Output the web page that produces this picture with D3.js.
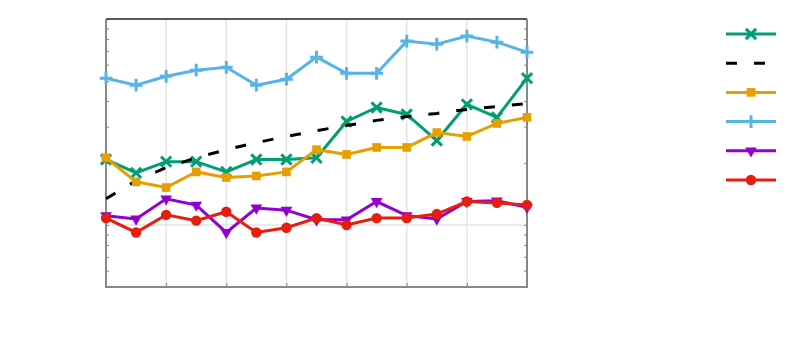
<html>
    <head>
        <title>Line chart</title>
        <script type="text/javascript" src="https://cdn.jsdelivr.net/npm/d3@7"></script>
        <style type="text/css">
            body { margin: 0; background: #fff; }
        </style>
    </head>
    <body>
        <script type="text/javascript">

            var xValues = [0, 1, 2, 3, 4, 5, 6, 7, 8, 9, 10, 11, 12, 13, 14];
            var xTicks = [0, 2, 4, 6, 8, 10, 12, 14];
            var yTicks = [0.5, 0.6, 0.7, 0.8, 0.9, 1, 2, 3, 4, 5, 6, 7, 8, 9, 10];
            var yMajor = [1, 10];

            var greenValues  = [2.08, 1.79, 2.03, 2.03, 1.81, 2.08, 2.08, 2.12, 3.18, 3.72, 3.44, 2.57, 3.85, 3.33, 5.16];
            var trendValues  = [1.34, 1.64, 1.90, 2.12, 2.32, 2.51, 2.69, 2.87, 3.04, 3.22, 3.36, 3.48, 3.64, 3.76, 3.89];
            var orangeValues = [2.12, 1.62, 1.52, 1.81, 1.70, 1.73, 1.81, 2.32, 2.20, 2.38, 2.38, 2.81, 2.69, 3.11, 3.33];
            var blueValues   = [5.16, 4.77, 5.27, 5.64, 5.83, 4.77, 5.10, 6.53, 5.45, 5.45, 7.81, 7.55, 8.26, 7.72, 6.90];
            var purpleValues = [1.11, 1.07, 1.34, 1.25, 0.92, 1.21, 1.18, 1.06, 1.06, 1.30, 1.11, 1.07, 1.30, 1.31, 1.22];
            var redValues    = [1.08, 0.92, 1.12, 1.05, 1.16, 0.92, 0.97, 1.08, 1.00, 1.08, 1.08, 1.13, 1.30, 1.28, 1.25];

            var series = [
                {name: 'green',  values: greenValues,  color: '#009e73', symbol: d3.symbolTimes,    size: 70, stroke: true},
                {name: 'trend',  values: trendValues,  color: '#000000', symbol: null, dash: '11,17'},
                {name: 'orange', values: orangeValues, color: '#e69f00', symbol: d3.symbolSquare,   size: 75},
                {name: 'blue',   values: blueValues,   color: '#56b4e9', symbol: d3.symbolPlus,     size: 55, stroke: true},
                {name: 'purple', values: purpleValues, color: '#9400d3', symbol: d3.symbolTriangle, size: 60, rotate: 180},
                {name: 'red',    values: redValues,    color: '#e51e10', symbol: d3.symbolCircle,   size: 85}
            ];

            var width = 800;
            var height = 350;
            var plot = {left: 106, right: 527, top: 19, bottom: 287};

            var svg = d3.select('body')
                .append('svg')
                    .attr('width', width)
                    .attr('height', height);

            var xScale = d3.scaleLinear()
                .domain([0, 14])
                .range([plot.left, plot.right]);

            var yScale = d3.scaleLog()
                .domain([0.5, 10])
                .range([plot.bottom, plot.top]);

            // grid
            var grid = svg.append('g').attr('id', 'grid');
            grid.selectAll('line.vgrid')
                .data(xTicks.slice(1, -1))
                .enter()
                .append('line')
                    .attr('class', 'vgrid')
                    .attr('x1', function(d) { return xScale(d); })
                    .attr('x2', function(d) { return xScale(d); })
                    .attr('y1', plot.top)
                    .attr('y2', plot.bottom)
                    .style('stroke', '#e4e4e4')
                    .style('stroke-width', 1.5);
            grid.selectAll('line.hgrid')
                .data(yMajor.slice(0, 1))
                .enter()
                .append('line')
                    .attr('class', 'hgrid')
                    .attr('x1', plot.left)
                    .attr('x2', plot.right)
                    .attr('y1', function(d) { return yScale(d); })
                    .attr('y2', function(d) { return yScale(d); })
                    .style('stroke', '#e4e4e4')
                    .style('stroke-width', 1.5);

            // axes with inward ticks, no labels
            function styleAxis(g) {
                g.selectAll('text').remove();
                g.select('.domain').remove();
                g.selectAll('line').style('stroke', '#888').style('stroke-width', 1);
            }

            svg.append('g')
                .attr('transform', 'translate(' + plot.left + ',0)')
                .call(d3.axisLeft(yScale).tickValues(yTicks).tickSize(-3))
                .call(styleAxis);
            svg.append('g')
                .attr('transform', 'translate(' + plot.right + ',0)')
                .call(d3.axisRight(yScale).tickValues(yTicks).tickSize(-3))
                .call(styleAxis);
            svg.append('g')
                .attr('transform', 'translate(0,' + plot.bottom + ')')
                .call(d3.axisBottom(xScale).tickValues(xTicks).tickSize(-4))
                .call(styleAxis);

            // frame
            var frame = svg.append('g').attr('id', 'frame');
            frame.append('line')
                .attr('x1', plot.left).attr('x2', plot.right)
                .attr('y1', plot.top).attr('y2', plot.top)
                .style('stroke', '#222').style('stroke-width', 1.5);
            frame.append('path')
                .attr('d', 'M' + plot.left + ',' + plot.top + 'V' + plot.bottom + 'H' + plot.right + 'V' + plot.top)
                .style('fill', 'none')
                .style('stroke', '#888')
                .style('stroke-width', 2);

            var line = d3.line()
                .x(function(d, i) { return xScale(xValues[i]); })
                .y(function(d) { return yScale(d); });

            function markerTransform(s, x, y) {
                return 'translate(' + x + ',' + y + ')' + (s.rotate ? ' rotate(' + s.rotate + ')' : '');
            }

            function styleMarker(sel, s) {
                if (s.stroke) {
                    sel.style('fill', 'none').style('stroke', s.color).style('stroke-width', 3);
                } else {
                    sel.style('fill', s.color).style('stroke', 'none');
                }
            }

            var lines = svg.append('g').attr('id', 'lines');
            series.forEach(function(s) {
                var g = lines.append('g').attr('class', 'series-' + s.name);
                g.append('path')
                    .datum(s.values)
                    .attr('d', line)
                    .style('fill', 'none')
                    .style('stroke', s.color)
                    .style('stroke-width', 3)
                    .style('stroke-dasharray', s.dash || null);
                if (s.symbol) {
                    g.selectAll('path.marker')
                        .data(s.values)
                        .enter()
                        .append('path')
                            .attr('class', 'marker')
                            .attr('d', d3.symbol().type(s.symbol).size(s.size))
                            .attr('transform', function(d, i) { return markerTransform(s, xScale(xValues[i]), yScale(d)); })
                            .call(styleMarker, s);
                }
            });

            // legend (no labels)
            var legend = svg.append('g').attr('id', 'legend');
            series.forEach(function(s, i) {
                var y = 34 + i * 29.2;
                legend.append('line')
                    .attr('x1', 726).attr('x2', 776)
                    .attr('y1', y).attr('y2', y)
                    .style('stroke', s.color)
                    .style('stroke-width', 3)
                    .style('stroke-dasharray', s.dash || null);
                if (s.symbol) {
                    legend.append('path')
                        .attr('d', d3.symbol().type(s.symbol).size(s.size))
                        .attr('transform', markerTransform(s, 751, y))
                        .call(styleMarker, s);
                }
            });

        </script>
    </body>
</html>
